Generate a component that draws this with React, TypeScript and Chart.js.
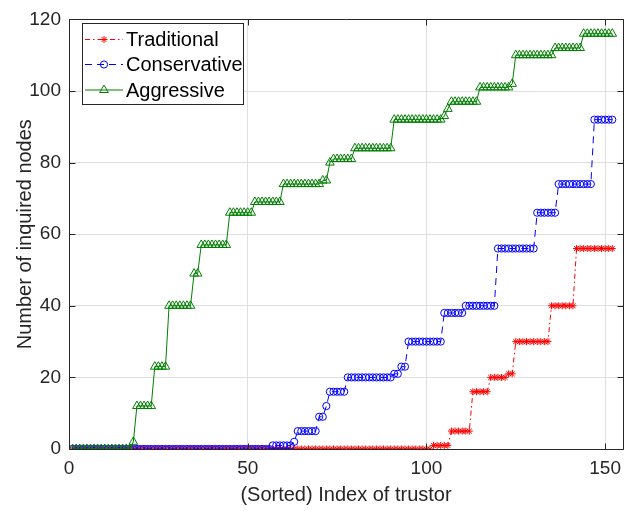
import React, { useEffect, useRef } from 'react';
import { Chart, registerables } from 'chart.js';

Chart.register(...registerables);

// ---- Data ----
const seriesNames = ['Traditional', 'Conservative', 'Aggressive'];
const xAxisTitle = '(Sorted) Index of trustor';
const yAxisTitle = 'Number of inquired nodes';
const xTicks = [0, 50, 100, 150];
const yTicks = [0, 20, 40, 60, 80, 100, 120];

const traditional = [
  0, 0, 0, 0, 0, 0, 0, 0, 0, 0,
  0, 0, 0, 0, 0, 0, 0, 0, 0, 0,
  0, 0, 0, 0, 0, 0, 0, 0, 0, 0,
  0, 0, 0, 0, 0, 0, 0, 0, 0, 0,
  0, 0, 0, 0, 0, 0, 0, 0, 0, 0,
  0, 0, 0, 0, 0, 0, 0, 0, 0, 0,
  0, 0, 0, 0, 0, 0, 0, 0, 0, 0,
  0, 0, 0, 0, 0, 0, 0, 0, 0, 0,
  0, 0, 0, 0, 0, 0, 0, 0, 0, 0,
  0, 0, 0, 0, 0, 0, 0, 0, 0, 0,
  0,
  1, 1, 1, 1, 1,
  5, 5, 5, 5, 5, 5,
  16, 16, 16, 16, 16,
  20, 20, 20, 20, 20,
  21, 21,
  30, 30, 30, 30, 30, 30, 30, 30, 30, 30,
  40, 40, 40, 40, 40, 40, 40,
  56, 56, 56, 56, 56, 56, 56, 56, 56, 56, 56,
];

const conservative = [
  0, 0, 0, 0, 0, 0, 0, 0, 0, 0,
  0, 0, 0, 0, 0, 0, 0, 0, 0, 0,
  0, 0, 0, 0, 0, 0, 0, 0, 0, 0,
  0, 0, 0, 0, 0, 0, 0, 0, 0, 0,
  0, 0, 0, 0, 0, 0, 0, 0, 0, 0,
  0, 0, 0, 0, 0, 0,
  1, 1, 1, 1, 1, 1,
  2,
  5, 5, 5, 5, 5, 5,
  9, 9,
  12,
  16, 16, 16, 16, 16,
  20, 20, 20, 20, 20, 20, 20, 20, 20, 20, 20, 20, 20,
  21, 21,
  23, 23,
  30, 30, 30, 30, 30, 30, 30, 30, 30, 30,
  38, 38, 38, 38, 38, 38,
  40, 40, 40, 40, 40, 40, 40, 40, 40,
  56, 56, 56, 56, 56, 56, 56, 56, 56, 56, 56,
  66, 66, 66, 66, 66, 66,
  74, 74, 74, 74, 74, 74, 74, 74, 74, 74,
  92, 92, 92, 92, 92, 92,
];

const aggressive = [
  0, 0, 0, 0, 0, 0, 0, 0, 0, 0,
  0, 0, 0, 0, 0, 0, 0,
  2,
  12, 12, 12, 12, 12,
  23, 23, 23, 23,
  40, 40, 40, 40, 40, 40, 40,
  49, 49,
  57, 57, 57, 57, 57, 57, 57, 57,
  66, 66, 66, 66, 66, 66, 66,
  69, 69, 69, 69, 69, 69, 69, 69,
  74, 74, 74, 74, 74, 74, 74, 74, 74, 74, 74,
  75, 75,
  80,
  81, 81, 81, 81, 81, 81,
  84, 84, 84, 84, 84, 84, 84, 84, 84, 84, 84,
  92, 92, 92, 92, 92, 92, 92, 92, 92, 92, 92, 92, 92, 92,
  93,
  95,
  97, 97, 97, 97, 97, 97, 97, 97,
  101, 101, 101, 101, 101, 101, 101, 101, 101,
  102,
  110, 110, 110, 110, 110, 110, 110, 110, 110, 110, 110,
  112, 112, 112, 112, 112, 112, 112, 112,
  116, 116, 116, 116, 116, 116, 116, 116, 116,
];

const trustorIndex = traditional.map((_, i) => i + 1);

// ---- Styling ----
const FONT = "'Liberation Sans', Arial, Helvetica, sans-serif";
const AXIS_COLOR = '#262626';
const GRID_COLOR = '#dfdfdf';

function drawMarker(ctx: CanvasRenderingContext2D, style: string, x: number, y: number, r: number) {
  ctx.beginPath();
  if (style === 'circle') {
    ctx.arc(x, y, r, 0, Math.PI * 2);
  } else if (style === 'triangle') {
    for (let k = 0; k < 3; k++) {
      const a = (k * 2 * Math.PI) / 3;
      const px = x + Math.sin(a) * r;
      const py = y - Math.cos(a) * r;
      if (k === 0) ctx.moveTo(px, py);
      else ctx.lineTo(px, py);
    }
    ctx.closePath();
  } else if (style === 'star') {
    ctx.moveTo(x - r, y); ctx.lineTo(x + r, y);
    ctx.moveTo(x, y - r); ctx.lineTo(x, y + r);
    const d = r * Math.SQRT1_2;
    ctx.moveTo(x - d, y - d); ctx.lineTo(x + d, y + d);
    ctx.moveTo(x - d, y + d); ctx.lineTo(x + d, y - d);
  }
  ctx.stroke();
}

const boxPlugin = {
  id: 'matlabBox',
  afterDatasetsDraw(chart: any) {
    const { ctx, chartArea } = chart;
    const xs = chart.scales.x;
    const ys = chart.scales.y;
    const l = Math.round(chartArea.left) + 0.5;
    const r = Math.round(chartArea.right) + 0.5;
    const t = Math.round(chartArea.top) + 0.5;
    const b = Math.round(chartArea.bottom) + 0.5;
    ctx.save();
    ctx.strokeStyle = AXIS_COLOR;
    ctx.lineWidth = 1;
    ctx.setLineDash([]);
    ctx.beginPath();
    ctx.moveTo(l, t); ctx.lineTo(r, t); ctx.lineTo(r, b); ctx.lineTo(l, b); ctx.closePath();
    const L = 6;
    xs.ticks.forEach((tk: any) => {
      const px = Math.round(xs.getPixelForValue(tk.value)) + 0.5;
      ctx.moveTo(px, b); ctx.lineTo(px, b - L);
      ctx.moveTo(px, t); ctx.lineTo(px, t + L);
    });
    ys.ticks.forEach((tk: any) => {
      const py = Math.round(ys.getPixelForValue(tk.value)) + 0.5;
      ctx.moveTo(l, py); ctx.lineTo(l + L, py);
      ctx.moveTo(r, py); ctx.lineTo(r - L, py);
    });
    ctx.stroke();
    ctx.restore();
  },
};

const legendPlugin = {
  id: 'insideLegend',
  afterDraw(chart: any) {
    const { ctx } = chart;
    const box = { x: 82.5, y: 23.5, w: 161, h: 81 };
    const rows = [39.5, 64.5, 90];
    ctx.save();
    ctx.fillStyle = '#ffffff';
    ctx.fillRect(box.x, box.y, box.w, box.h);
    ctx.strokeStyle = AXIS_COLOR;
    ctx.lineWidth = 1;
    ctx.setLineDash([]);
    ctx.strokeRect(box.x, box.y, box.w, box.h);
    chart.data.datasets.forEach((ds: any, i: number) => {
      const y = rows[i];
      ctx.strokeStyle = ds.borderColor;
      ctx.lineWidth = 1;
      ctx.setLineDash(ds.borderDash || []);
      ctx.beginPath();
      ctx.moveTo(85, y); ctx.lineTo(123, y);
      ctx.stroke();
      ctx.setLineDash([]);
      drawMarker(ctx, ds.pointStyle, 104, y, ds.pointRadius);
      ctx.fillStyle = '#000000';
      ctx.font = `20px ${FONT}`;
      ctx.textAlign = 'left';
      ctx.textBaseline = 'middle';
      ctx.fillText(ds.label, 126, y + 1);
    });
    ctx.restore();
  },
};

export default function App() {
  const canvasRef = useRef<HTMLCanvasElement | null>(null);

  useEffect(() => {
    const canvas = canvasRef.current;
    if (!canvas) return;
    const mk = (arr: number[]) => trustorIndex.map((x, i) => ({ x, y: arr[i] }));
    const chart = new Chart(canvas, {
      type: 'line',
      data: {
        datasets: [
          {
            label: seriesNames[0],
            data: mk(traditional),
            borderColor: '#ff0000',
            borderWidth: 1,
            borderDash: [5, 3, 1.5, 3],
            pointStyle: 'star',
            pointRadius: 3.5,
            pointBorderColor: '#ff0000',
            pointBackgroundColor: 'rgba(0,0,0,0)',
            pointBorderWidth: 1,
            tension: 0,
            fill: false,
            order: 2,
          },
          {
            label: seriesNames[1],
            data: mk(conservative),
            borderColor: '#0000ff',
            borderWidth: 1,
            borderDash: [7, 5],
            pointStyle: 'circle',
            pointRadius: 3.6,
            pointBorderColor: '#0000ff',
            pointBackgroundColor: 'rgba(0,0,0,0)',
            pointBorderWidth: 1,
            tension: 0,
            fill: false,
            order: 1,
          },
          {
            label: seriesNames[2],
            data: mk(aggressive),
            borderColor: '#008000',
            borderWidth: 1,
            borderDash: [],
            pointStyle: 'triangle',
            pointRadius: 5,
            pointBorderColor: '#008000',
            pointBackgroundColor: 'rgba(0,0,0,0)',
            pointBorderWidth: 1,
            tension: 0,
            fill: false,
            order: 0,
          },
        ],
      },
      options: {
        animation: false,
        responsive: true,
        maintainAspectRatio: false,
        layout: { padding: { top: 12, right: 11, left: 0, bottom: 0 } },
        plugins: {
          legend: { display: false },
          tooltip: { enabled: false },
        },
        elements: { line: { clip: false } as any },
        scales: {
          x: {
            type: 'linear',
            min: 0,
            max: 155,
            afterBuildTicks: (s: any) => {
              s.ticks = xTicks.map((v) => ({ value: v }));
            },
            afterFit: (s: any) => {
              s.height = 62;
            },
            grid: { color: GRID_COLOR, lineWidth: 1, drawTicks: false },
            border: { display: false },
            ticks: {
              color: AXIS_COLOR,
              font: { family: FONT, size: 19 },
              padding: 8,
              maxRotation: 0,
            },
            title: {
              display: true,
              text: xAxisTitle,
              color: AXIS_COLOR,
              font: { family: FONT, size: 20 },
              padding: { top: 0, bottom: 4 },
            },
          },
          y: {
            type: 'linear',
            min: 0,
            max: 120,
            afterBuildTicks: (s: any) => {
              s.ticks = yTicks.map((v) => ({ value: v }));
            },
            afterFit: (s: any) => {
              s.width = 69;
            },
            grid: { color: GRID_COLOR, lineWidth: 1, drawTicks: false },
            border: { display: false },
            ticks: {
              color: AXIS_COLOR,
              font: { family: FONT, size: 19 },
              padding: 8,
            },
            title: {
              display: true,
              text: yAxisTitle,
              color: AXIS_COLOR,
              font: { family: FONT, size: 20 },
              padding: { top: 13, bottom: 0 },
            },
          },
        },
      } as any,
      plugins: [boxPlugin, legendPlugin],
    });
    return () => chart.destroy();
  }, []);

  return (
    <div style={{ position: 'fixed', left: 0, top: 0, width: 634, height: 511, background: '#ffffff' }}>
      <canvas ref={canvasRef} />
    </div>
  );
}
